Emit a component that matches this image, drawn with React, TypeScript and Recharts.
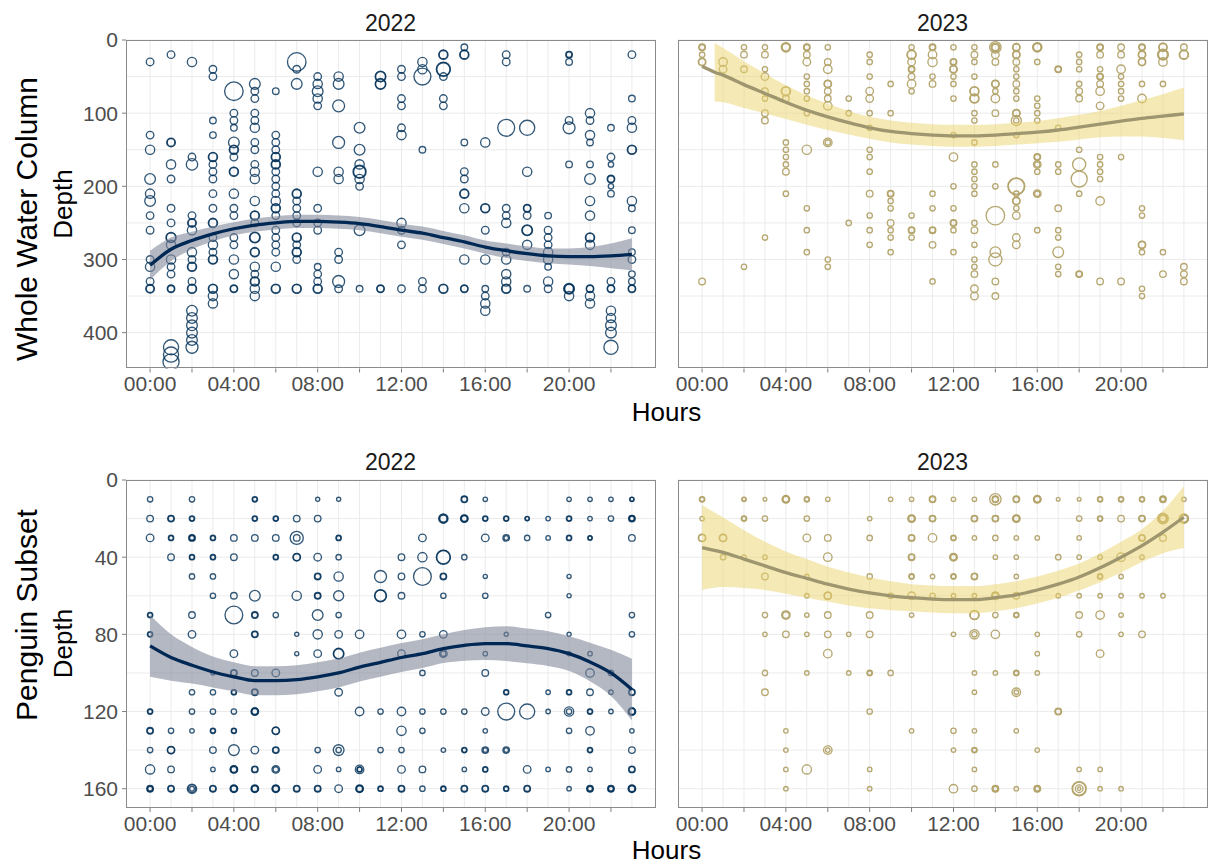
import { ComposedChart, Scatter, Line, Area, XAxis, YAxis, ZAxis, CartesianGrid } from 'recharts';

// [hour, depth, size] — size is the bubble value (ring overlaps = repeated rows)
const wholeColumn2022 = [
  [0,30,2],[0,130,2],[0,150,3],[0,190,4],[0,210,3],[0,220,4],[0,240,2],[0,260,2],[0,300,2],[0,310,3],[0,330,2],[0,340,2],[0,340,2.6],
  [1,20,2],[1,140,2],[1,140,2.6],[1,170,3],[1,190,2],[1,230,2],[1,250,2],[1,270,3],[1,270,3.6],[1,280,3],[1,300,3],[1,310,2],[1,320,2],[1,340,2],[1,340,1.5],[1,420,8],[1,430,8],[1,440,9],
  [2,30,3],[2,160,2],[2,170,4.5],[2,240,2],[2,250,2],[2,250,2.6],[2,260,3],[2,290,3],[2,300,2],[2,310,3],[2,310,2.4],[2,330,2],[2,340,3],[2,340,2.4],[2,370,4],[2,380,4],[2,390,4],[2,400,4],[2,410,4],[2,420,5],
  [3,40,2],[3,50,2],[3,110,1.5],[3,130,1.5],[3,160,3],[3,160,2.4],[3,170,2],[3,180,2],[3,190,2],[3,210,2],[3,230,2],[3,250,3],[3,250,2.4],[3,270,2],[3,280,3],[3,290,2],[3,300,3],[3,300,2.4],[3,340,3],[3,340,2.4],[3,350,3],[3,360,3],
  [4,70,12],[4,100,2],[4,110,2],[4,120,1.5],[4,140,4],[4,150,3],[4,150,2.4],[4,160,2],[4,180,3],[4,180,2.4],[4,210,3],[4,230,2],[4,240,2],[4,270,2],[4,280,2],[4,300,3],[4,320,3],[4,340,2],[4,340,1.6],
  [5,60,4],[5,70,2],[5,80,2],[5,100,2],[5,110,2],[5,120,3],[5,140,2],[5,150,2],[5,170,2],[5,180,3],[5,190,3],[5,220,3],[5,240,3],[5,240,2.4],[5,250,2],[5,270,4],[5,270,3.3],[5,290,3],[5,290,2.4],[5,310,3],[5,320,2],[5,330,3],[5,330,2.4],[5,340,3],[5,350,3],
  [6,70,1.5],[6,130,2],[6,140,2],[6,150,2],[6,160,3],[6,160,2.4],[6,170,3],[6,170,2.4],[6,180,2],[6,190,2],[6,200,2],[6,210,2],[6,220,3],[6,230,3],[6,230,2.4],[6,240,2],[6,260,2],[6,270,2],[6,280,2],[6,290,2],[6,310,3],[6,340,3],[6,340,2.4],
  [7,30,12],[7,40,2],[7,60,4],[7,210,3],[7,210,2.4],[7,220,2],[7,230,2],[7,240,2],[7,250,2],[7,270,3],[7,270,2.4],[7,280,2],[7,290,3],[7,290,2.4],[7,300,2],[7,340,3],[7,340,2.4],
  [8,50,2],[8,60,3],[8,70,4],[8,80,3],[8,90,2],[8,180,3],[8,230,2],[8,250,2],[8,260,2],[8,310,1.5],[8,320,2],[8,330,2],[8,340,3],[8,340,2.4],
  [9,50,3],[9,60,4],[9,90,5],[9,140,5],[9,180,3],[9,190,3],[9,290,2],[9,300,2],[9,330,5],[9,340,2],
  [10,120,4],[10,150,4],[10,170,3],[10,180,6],[10,180,5],[10,190,3],[10,200,2],[10,260,4],[10,340,1.5],
  [11,50,4],[11,50,3.4],[11,60,4],[11,60,3.4],[11,340,2],[11,340,1.6],
  [12,40,2],[12,50,2],[12,80,2],[12,90,2],[12,120,2],[12,130,3],[12,250,3],[12,260,2],[12,280,2],[12,340,2],
  [13,30,3],[13,40,3],[13,50,10],[13,150,1.5],[13,330,2],[13,340,2],
  [14,20,3],[14,20,2.4],[14,40,7],[14,40,6],[14,50,2],[14,80,2],[14,90,2],[14,340,3],[14,340,2.4],
  [15,10,1.5],[15,20,3],[15,20,2.4],[15,140,1.5],[15,180,2],[15,190,2],[15,210,3],[15,210,2.4],[15,230,3],[15,300,3],[15,340,2],[15,340,1.6],
  [16,140,3],[16,230,3],[16,230,2.4],[16,260,2],[16,300,3],[16,340,1.5],[16,350,2],[16,360,3],[16,370,3],
  [17,20,2],[17,30,2],[17,120,10],[17,230,2],[17,240,2],[17,250,3],[17,290,2],[17,300,3],[17,320,3],[17,330,3],[17,340,3],[17,340,2.4],
  [18,120,8],[18,180,3],[18,230,2],[18,230,1.6],[18,240,2],[18,260,4],[18,260,3.3],[18,280,3],[18,340,1.5],
  [19,240,1.5],[19,260,2],[19,270,2],[19,280,2],[19,290,3],[19,300,3],[19,310,1.5],[19,330,3],[19,340,2],
  [20,20,1.5],[20,20,1.1],[20,30,1.5],[20,110,2],[20,120,5],[20,170,1.5],[20,340,4],[20,340,3.3],[20,340,2.6],[20,350,3],
  [21,100,3],[21,110,2],[21,130,3],[21,140,1.5],[21,170,1.5],[21,190,4],[21,220,3],[21,240,3],[21,270,3],[21,270,2.4],[21,280,3],[21,340,2],[21,340,1.6],[21,350,3],[21,360,3],
  [22,120,1.5],[22,160,2],[22,170,1],[22,190,2],[22,190,1.5],[22,200,1],[22,210,1.5],[22,330,2],[22,340,2],[22,340,1.6],[22,370,3],[22,380,3],[22,390,4],[22,400,4],[22,420,7],
  [23,20,2],[23,80,1.5],[23,110,2],[23,120,3],[23,150,3],[23,150,2.4],[23,220,3],[23,230,1.5],[23,260,1.5],[23,290,1.5],[23,300,2],[23,320,1.5],[23,330,1.5],[23,340,2],[23,340,1.6],
];

const wholeColumn2023 = [
  [0,10,1.5],[0,10,1.1],[0,20,1],[0,30,2],[0,30,1.6],[0,330,1.5],
  [1,30,2.5],[1,40,2],
  [2,10,1],[2,20,1.5],[2,40,1.5],[2,310,1],
  [3,10,1],[3,20,1.5],[3,40,1],[3,50,2],[3,70,1.5],[3,80,1],[3,100,1.5],[3,110,1.5],[3,270,1],
  [4,10,3],[4,10,2.5],[4,10,2],[4,70,3],[4,70,2.4],[4,80,1.5],[4,140,1],[4,150,1],[4,160,1],[4,170,1],[4,180,1.5],[4,210,1],
  [5,10,1.5],[5,10,1.1],[5,20,1.5],[5,30,2],[5,50,1],[5,60,1],[5,70,1],[5,80,1],[5,100,1],[5,150,3],[5,230,1],[5,260,1],[5,290,1],
  [6,10,1],[6,30,1.5],[6,40,2.5],[6,60,2],[6,60,1.6],[6,70,1.5],[6,80,1.5],[6,90,2.5],[6,140,2.5],[6,140,1],[6,300,1],[6,310,1],
  [7,80,1],[7,100,1],[7,250,1],
  [8,20,1],[8,30,1],[8,50,1],[8,70,2],[8,80,2],[8,100,1],[8,120,1],[8,150,1],[8,160,1],[8,180,1],[8,210,1.5],[8,240,1],[8,260,1],[8,280,1],
  [9,60,1],[9,100,1],[9,210,1.5],[9,210,1.1],[9,220,1],[9,230,1],[9,250,1.5],[9,260,1],[9,270,1],[9,290,1],
  [10,10,1],[10,20,3],[10,20,2.4],[10,30,2],[10,40,1.5],[10,40,1.1],[10,50,1.5],[10,60,2.5],[10,70,1],[10,240,1],[10,260,1.5],[10,260,1.1],[10,270,1],
  [11,10,1.5],[11,10,1.1],[11,20,2.5],[11,30,3],[11,50,1],[11,60,1.5],[11,210,1],[11,230,1],[11,260,1.5],[11,260,1.1],[11,280,1.5],[11,330,1],
  [12,10,1],[12,30,1.5],[12,30,1.1],[12,40,2],[12,40,1.6],[12,50,1],[12,60,1],[12,80,1],[12,130,1],[12,160,2.5],[12,200,1],[12,230,1],[12,250,1.5],[12,250,1.1],[12,260,1],[12,290,1],
  [13,10,1],[13,20,1.5],[13,30,1],[13,50,1],[13,70,3],[13,70,2.4],[13,80,3],[13,80,2.4],[13,100,1],[13,110,1],[13,140,1],[13,170,1],[13,180,1],[13,190,1],[13,200,1],[13,210,1],[13,250,1],[13,260,1.5],[13,280,1],[13,300,1],[13,310,1],[13,320,1.5],[13,340,2],[13,350,2],
  [14,10,4.5],[14,10,2.5],[14,10,1.5],[14,20,2],[14,30,1.5],[14,60,2],[14,60,1.6],[14,70,1],[14,80,2.5],[14,100,1.5],[14,170,1],[14,200,1],[14,240,12],[14,290,4],[14,300,6],[14,330,1.5],[14,350,1.5],
  [15,10,2],[15,10,1.6],[15,20,2],[15,20,1.6],[15,30,1.5],[15,40,1],[15,50,1],[15,60,1.5],[15,70,1],[15,80,1],[15,100,2],[15,100,1.6],[15,110,3.5],[15,110,1],[15,130,1],[15,200,10],[15,200,9],[15,210,1],[15,220,2],[15,220,1.6],[15,230,1],[15,240,2],[15,270,2],[15,280,2],
  [16,10,3],[16,10,2.5],[16,10,2],[16,30,1],[16,80,1],[16,90,1],[16,100,1],[16,110,1],[16,160,1.5],[16,160,1.1],[16,170,2],[16,170,1],[16,180,1],[16,210,2],[16,210,1],[16,260,1],
  [17,40,1.5],[17,40,1.1],[17,120,1],[17,170,1],[17,180,1],[17,230,1.5],[17,260,1],[17,270,1],[17,290,4],[17,310,1],[17,320,1],
  [18,20,1],[18,30,1],[18,40,1],[18,60,1],[18,70,1.5],[18,80,1.5],[18,150,1],[18,170,6],[18,190,9],[18,210,1],[18,320,1.5],[18,320,1.1],
  [19,10,1.5],[19,10,1.1],[19,20,1.5],[19,40,1],[19,50,1.5],[19,50,1.1],[19,60,1.5],[19,70,2.5],[19,90,2],[19,160,1],[19,170,1],[19,180,1],[19,190,1],[19,220,2.5],[19,330,1.5],
  [20,10,1.5],[20,20,1.5],[20,40,2.5],[20,50,1],[20,60,1],[20,70,1],[20,80,1],[20,160,1],[20,330,1.5],
  [21,10,1.5],[21,10,1.1],[21,20,2],[21,20,1.6],[21,30,2],[21,30,1.6],[21,60,1],[21,80,2.5],[21,230,1],[21,240,1],[21,280,2],[21,280,1.6],[21,290,1],[21,340,1],[21,350,1],
  [22,10,2.5],[22,10,2],[22,20,4],[22,20,3.4],[22,20,2.8],[22,30,2.5],[22,60,1],[22,290,1],[22,320,1.5],
  [23,10,1.5],[23,20,3],[23,20,2.4],[23,310,1.5],[23,320,1.5],[23,330,1.5],
];

const penguin2022 = [
  [0,10,1],[0,20,1.5],[0,30,2],[0,70,1],[0,70,0.7],[0,80,1],[0,80,0.7],[0,120,1],[0,120,0.7],[0,130,1.5],[0,130,1.1],[0,140,1],[0,150,3],[0,160,1.5],[0,160,1.1],[0,160,0.8],
  [1,20,1.5],[1,20,1.1],[1,30,1],[1,30,0.7],[1,40,1.5],[1,130,1],[1,140,2],[1,140,1.6],[1,150,1.5],[1,160,1.5],[1,160,1.1],
  [2,10,1],[2,20,1],[2,20,0.7],[2,30,1.5],[2,30,1.1],[2,30,0.8],[2,40,1],[2,40,0.7],[2,50,1],[2,70,1.5],[2,80,2],[2,110,1],[2,120,1],[2,130,0.7],[2,160,3],[2,160,2],[2,160,0.8],
  [3,30,1],[3,30,0.7],[3,40,1],[3,40,0.7],[3,50,1],[3,60,1],[3,100,0.6],[3,110,1],[3,120,1],[3,130,1],[3,130,0.7],[3,140,1.5],[3,150,0.7],[3,160,1.5],[3,160,1.1],
  [4,30,1.5],[4,40,1.5],[4,60,1.5],[4,70,11],[4,90,2],[4,100,1.5],[4,100,1.1],[4,110,1],[4,110,0.7],[4,120,1],[4,130,1],[4,130,0.7],[4,140,4],[4,150,2],[4,150,1.6],[4,150,1.2],[4,160,2],[4,160,1.6],[4,160,1.2],
  [5,10,1],[5,10,0.7],[5,20,1],[5,20,0.7],[5,30,1.5],[5,60,4],[5,70,1.5],[5,70,1.1],[5,80,1.5],[5,80,1.1],[5,100,1.5],[5,110,1.5],[5,110,1.1],[5,120,2],[5,120,1.6],[5,120,1.2],[5,140,2],[5,150,1.5],[5,150,1.1],[5,160,2],[5,160,1.6],[5,160,1.2],
  [6,20,1],[6,20,0.7],[6,30,1.5],[6,40,1],[6,40,0.7],[6,70,1],[6,100,2],[6,130,2],[6,130,1.6],[6,140,1.5],[6,140,1.1],[6,150,2],[6,150,1],[6,160,2],[6,160,1.6],[6,160,1.2],
  [7,20,1.5],[7,30,6],[7,30,1.5],[7,40,2],[7,40,1.6],[7,60,3],[7,80,0.6],[7,90,0.6],[7,160,1.5],[7,160,1.1],
  [8,10,0.6],[8,20,1.5],[8,40,2],[8,50,1.5],[8,50,1.1],[8,60,1.5],[8,60,1.1],[8,70,4],[8,80,3],[8,90,2],[8,140,1],[8,150,2],[8,160,1.5],[8,160,1.1],
  [9,10,0.6],[9,30,1],[9,30,0.7],[9,40,1],[9,50,3],[9,60,3.5],[9,70,1],[9,80,2],[9,90,4],[9,90,3.4],[9,110,2],[9,140,4],[9,140,1],[9,150,0.7],[9,160,2],
  [10,80,2.5],[10,120,2.5],[10,150,2.5],[10,150,1],[10,150,0.7],[10,160,2],[10,160,1.6],[10,160,1.2],
  [11,50,5],[11,60,5],[11,60,4.4],[11,120,1],[11,140,1],[11,160,1],[11,160,0.7],
  [12,40,1.5],[12,50,1.5],[12,60,1.5],[12,80,2.5],[12,90,2],[12,120,2.5],[12,130,3],[12,140,1],[12,150,2],[12,160,1.5],[12,160,1.1],
  [13,30,2],[13,40,3],[13,50,11],[13,80,1],[13,100,1],[13,120,1],[13,130,1],[13,150,1.5],[13,160,1],
  [14,20,3],[14,20,2.4],[14,20,1.8],[14,40,7],[14,40,6.2],[14,50,1.5],[14,50,1.1],[14,60,1],[14,80,2],[14,90,2],[14,90,1],[14,120,1],[14,140,0.7],[14,160,1],[14,160,0.7],
  [15,10,1.5],[15,10,1.1],[15,20,2],[15,20,1.6],[15,20,1.2],[15,40,1],[15,120,1],[15,140,1],[15,140,0.7],[15,150,0.7],[15,160,1.5],[15,160,1.1],
  [16,10,0.7],[16,20,1],[16,20,0.7],[16,30,2],[16,50,0.6],[16,60,1],[16,90,0.7],[16,100,1.5],[16,120,2],[16,130,0.7],[16,140,1.5],[16,140,0.7],[16,150,1],[16,150,0.7],[16,160,1.5],[16,160,1.1],
  [17,20,1],[17,20,0.7],[17,30,1.5],[17,30,0.7],[17,80,0.6],[17,110,1],[17,110,0.7],[17,120,10],[17,140,1.5],[17,140,0.7],[17,160,1],[17,160,0.7],
  [18,20,0.7],[18,20,0.5],[18,30,1],[18,120,8],[18,150,2],[18,160,1.5],[18,160,1.1],
  [19,20,0.7],[19,30,0.7],[19,70,1],[19,110,0.7],[19,120,0.7],[19,150,0.7],
  [20,10,0.7],[20,20,1],[20,20,0.7],[20,30,1],[20,30,0.7],[20,50,0.6],[20,60,0.6],[20,80,0.6],[20,90,0.6],[20,110,1],[20,110,0.7],[20,120,3],[20,120,1],[20,130,1],[20,150,1],[20,160,0.7],
  [21,10,0.7],[21,20,0.7],[21,30,0.7],[21,30,0.5],[21,90,0.7],[21,100,2.5],[21,110,1.5],[21,120,1],[21,120,0.7],[21,130,2.5],[21,140,1],[21,140,0.7],[21,150,0.7],[21,160,1.5],[21,160,1.1],[21,160,0.8],
  [22,10,0.7],[22,20,1],[22,100,1],[22,110,0.7],[22,120,0.7],[22,160,1.5],[22,160,1.1],[22,160,0.8],
  [23,10,0.7],[23,10,0.5],[23,20,1.5],[23,20,1.1],[23,20,0.8],[23,30,1.5],[23,70,1],[23,80,1],[23,110,1.5],[23,110,1.1],[23,120,2],[23,120,1.6],[23,120,1.2],[23,130,0.7],[23,140,1.5],[23,150,1.5],[23,150,1.1],[23,160,2],[23,160,1.6],[23,160,1.2],
];

const penguin2023 = [
  [0,10,1],[0,10,0.7],[0,20,0.7],[0,30,2],[0,30,1.6],
  [1,30,2],[1,30,1.6],[1,40,1],
  [2,10,0.7],[2,10,0.5],[2,20,1],[2,20,0.7],[2,40,0.7],
  [3,10,0.5],[3,20,1],[3,40,0.7],[3,50,1.5],[3,70,1],[3,80,0.7],[3,100,1],[3,110,1.5],
  [4,10,2],[4,10,1.6],[4,10,1.2],[4,70,2.5],[4,70,1.5],[4,80,1.5],[4,130,0.7],[4,140,0.7],[4,150,0.7],[4,160,0.7],
  [5,10,1],[5,10,0.7],[5,20,1],[5,30,2],[5,50,0.7],[5,60,0.7],[5,70,0.7],[5,80,0.7],[5,100,0.7],[5,150,3],
  [6,10,0.7],[6,30,1.5],[6,40,2.5],[6,60,2],[6,60,1.6],[6,70,1.5],[6,80,1.5],[6,90,2.5],[6,140,2.5],[6,140,0.7],
  [7,80,0.7],[7,100,0.7],
  [8,20,0.7],[8,30,1],[8,50,1],[8,70,1.5],[8,80,1.5],[8,100,1],[8,100,0.7],[8,120,1],[8,150,0.7],[8,160,0.7],
  [9,10,0.7],[9,60,1],[9,100,1],
  [10,10,0.7],[10,20,2],[10,20,1.6],[10,20,1.2],[10,30,1.5],[10,30,1.1],[10,40,1.5],[10,40,1.1],[10,50,1],[10,50,0.7],[10,60,2],[10,70,0.7],[10,130,0.7],
  [11,10,1.5],[11,10,1.1],[11,20,1.5],[11,20,1.1],[11,30,2.5],[11,50,0.7],[11,60,1],
  [12,10,0.7],[12,30,1],[12,30,0.7],[12,40,2],[12,40,1.6],[12,40,1.2],[12,50,1],[12,50,0.7],[12,60,0.7],[12,80,0.7],[12,130,1],[12,140,0.7],[12,160,2.5],
  [13,10,0.7],[13,20,1.5],[13,20,1.1],[13,30,0.7],[13,50,1.5],[13,50,1.1],[13,60,0.7],[13,70,3],[13,70,2.5],[13,80,3],[13,80,1],[13,100,0.7],[13,110,0.7],[13,130,0.7],[13,140,1],[13,140,0.7],[13,150,0.7],[13,160,1],
  [14,10,4.5],[14,10,1.5],[14,10,1.1],[14,20,1.5],[14,20,1.1],[14,30,1],[14,40,0.7],[14,60,2],[14,60,1.6],[14,60,1.2],[14,70,1],[14,80,2.5],[14,100,0.7],[14,160,1.5],[14,160,1.1],[14,160,0.8],
  [15,10,1.5],[15,10,1.1],[15,20,2],[15,20,1.6],[15,20,1.2],[15,30,0.7],[15,40,0.7],[15,50,0.7],[15,60,1.5],[15,70,1],[15,70,0.7],[15,100,1],[15,100,0.7],[15,110,2.5],[15,110,0.7],[15,130,0.7],[15,160,0.7],
  [16,10,2],[16,10,1.6],[16,10,1.2],[16,30,0.7],[16,80,0.7],[16,90,0.7],[16,100,0.7],[16,140,0.7],[16,160,1.5],[16,160,1.1],[16,160,0.8],
  [17,10,0.5],[17,40,1],[17,60,0.7],[17,120,1.5],[17,120,1.1],
  [18,10,0.5],[18,20,1],[18,30,0.7],[18,40,0.7],[18,60,0.7],[18,70,1.5],[18,80,1],[18,150,0.7],[18,160,7],[18,160,6],[18,160,2],[18,160,0.4],
  [19,10,1],[19,10,0.7],[19,20,1],[19,20,0.7],[19,40,0.7],[19,50,1],[19,50,0.7],[19,60,0.7],[19,70,2.5],[19,90,2],[19,150,0.7],[19,160,0.7],
  [20,10,1],[20,10,0.7],[20,20,1.5],[20,40,2.5],[20,50,0.7],[20,60,0.7],[20,70,0.7],[20,80,0.7],[20,160,0.7],
  [21,10,1],[21,10,0.7],[21,20,1.5],[21,20,1.1],[21,30,1.5],[21,30,1.1],[21,40,0.7],[21,60,0.7],[21,80,1.5],
  [22,10,1.5],[22,10,1.1],[22,10,0.8],[22,20,4],[22,20,3],[22,20,2],[22,20,1.5],[22,30,1.5],[22,60,0.7],
  [23,10,0.7],[23,20,3],[23,20,2.4],[23,20,1.8],
];

// smoothed fit (loess) and its confidence half-width, per hour
const fitHours = [0,1,2,3,4,5,6,7,8,9,10,11,12,13,14,15,16,17,18,19,20,21,22,23];
const wholeFit2022 = [308,286,274,265,258,253,250,248,248,249,251,255,260,264,270,276,283,288,292,295,296,296,295,293];
const wholeCi2022 = [20,16,12,10,9,9,9,9,9,9,9,9,9,9,9,9,9,10,10,10,11,13,17,22];
const fitHours2023 = [0,0.6,1,2,3,4,5,6,7,8,9,10,11,12,13,14,15,16,17,18,19,20,21,22,23];
const wholeFit2023 = [36,44,48,61,73,85,96,105,113,120,125,128,130,131,131,130,128,126,123,119,115,111,107,104,101];
const wholeCi2023 = [null,40,37,32,27,23,20,18,16,15,15,15,15,15,15,15,15,15,16,17,18,21,25,30,36];
const penguinFit2022 = [86,92,96,99.5,102,104,104,103.5,102,100,97,94.5,92,90,87.4,85.7,84.8,84.8,86,87.4,90,94.3,100,108.6];
const penguinCi2022 = [16,12,9.5,8,7.5,7.5,7.5,7.5,7.5,7.5,7.5,7.5,7.5,7.5,7.5,8,8.5,9,9,9,9,10,12,16];
const penguinFit2023 = [35,37.5,41,44.5,48,51,54,56.5,58.5,60,61,61.7,62,62,61,59.5,57,54,50.3,45.5,40,34,27,19.3];
const penguinCi2023 = [22,18,15,12.5,11,10,9,8.5,8,7.5,7,7,7,7,7,7,7,7,7,7.5,8,8.5,11,16];

const hourTicks = [0,2,4,6,8,10,12,14,16,18,20,22];
const hourGrid = [0,1,2,3,4,5,6,7,8,9,10,11,12,13,14,15,16,17,18,19,20,21,22,23];
const wholeTicks = [0,100,200,300,400];
const wholeGrid = [0,50,100,150,200,250,300,350,400];
const penguinTicks = [0,40,80,120,160];
const penguinGrid = [0,20,40,60,80,100,120,140,160];

const FONT = '"Liberation Sans", Arial, Helvetica, sans-serif';
const NAVY = '#003057';
const GOLD = '#B3A369';

const PW = 530;
const AXW = 50;
const MT = 12;
const XH = 34;

const fmtHour = (v: number) => (v % 4 === 0 ? `${String(v).padStart(2, '0')}:00` : '');

function Panel(props: any) {
  const { pts, hours, fit, ci, left, top, h, domain, ticks, grid, showY, pointColor, pointOpacity, lineColor, bandColor, bandOpacity } = props;
  const rows = hours.map((hr: number, i: number) => ({
    hour: hr,
    fit: fit[i],
    band: ci[i] == null ? null : [Math.max(0, fit[i] - ci[i]), fit[i] + ci[i]],
  }));
  const points = pts.map((p: number[]) => ({ hour: p[0], depth: p[1], n: p[2] }));
  const yw = showY ? AXW : 0;
  const ml = showY ? 0 : 30;
  const ring = (s: any) => {
    const r = s.width ? s.width / 2 : Math.sqrt((s.size || 20) / Math.PI);
    return <circle cx={s.cx} cy={s.cy} r={r} fill="none" stroke={pointColor} strokeOpacity={pointOpacity} strokeWidth={1.35} />;
  };
  return (
    <>
      <div style={{ position: 'absolute', left: left - yw - ml, top: top - MT }}>
        <ComposedChart width={ml + yw + PW + 12} height={MT + h + XH} data={rows} margin={{ top: MT, right: 12, bottom: 0, left: ml }}>
          <CartesianGrid stroke="#ebebeb" strokeWidth={1} verticalValues={hourGrid} horizontalValues={grid} />
          <XAxis
            dataKey="hour"
            type="number"
            domain={[-1.15, 24.15]}
            allowDataOverflow
            ticks={hourTicks}
            interval={0}
            tickFormatter={fmtHour}
            height={XH}
            axisLine={false}
            tickSize={4}
            tickMargin={4}
            tickLine={{ stroke: '#7f7f7f' }}
            tick={{ fill: '#4d4d4d', fontSize: 21, fontFamily: FONT }}
          />
          <YAxis
            dataKey="depth"
            type="number"
            reversed
            domain={domain}
            allowDataOverflow
            ticks={ticks}
            interval={0}
            width={AXW}
            hide={!showY}
            axisLine={false}
            tickSize={4}
            tickMargin={4}
            tickLine={{ stroke: '#7f7f7f' }}
            tick={{ fill: '#4d4d4d', fontSize: 21, fontFamily: FONT }}
          />
          <ZAxis dataKey="n" type="number" domain={[0, 20]} range={[0, 450]} />
          <Scatter data={points} shape={ring} isAnimationActive={false} zIndex={100} />
          <Area
            dataKey="band"
            type="monotone"
            stroke="none"
            fill={bandColor}
            fillOpacity={bandOpacity}
            dot={false}
            activeDot={false}
            isAnimationActive={false}
            zIndex={200}
          />
          <Line dataKey="fit" type="monotone" stroke={lineColor} strokeWidth={3.3} dot={false} activeDot={false} isAnimationActive={false} zIndex={300} />
        </ComposedChart>
      </div>
      <div
        style={{
          position: 'absolute',
          left,
          top,
          width: PW,
          height: h,
          border: '1px solid #8a8a8a',
          boxSizing: 'border-box',
          pointerEvents: 'none',
        }}
      />
    </>
  );
}

export default function App() {
  const topRow = { top: 39.5, h: 328.5, domain: [0, 449], ticks: wholeTicks, grid: wholeGrid };
  const botRow = { top: 479.5, h: 328, domain: [0, 170], ticks: penguinTicks, grid: penguinGrid };
  const navy = { pointColor: NAVY, pointOpacity: 0.8, lineColor: '#002855', bandColor: '#7d8597', bandOpacity: 0.58 };
  const gold = { pointColor: GOLD, pointOpacity: 0.95, lineColor: '#9e966f', bandColor: '#EBD36B', bandOpacity: 0.5 };
  return (
    <div style={{ position: 'absolute', left: 0, top: 0, width: 1208, height: 868, overflow: 'hidden', background: '#fff' }}>
      <Panel {...topRow} {...navy} left={125.5} showY pts={wholeColumn2022} hours={fitHours} fit={wholeFit2022} ci={wholeCi2022} />
      <Panel {...topRow} {...gold} left={677.5} showY={false} pts={wholeColumn2023} hours={fitHours2023} fit={wholeFit2023} ci={wholeCi2023} />
      <Panel {...botRow} {...navy} left={125.5} showY pts={penguin2022} hours={fitHours} fit={penguinFit2022} ci={penguinCi2022} />
      <Panel {...botRow} {...gold} left={677.5} showY={false} pts={penguin2023} hours={fitHours} fit={penguinFit2023} ci={penguinCi2023} />
      <svg width={1208} height={868} style={{ position: 'absolute', left: 0, top: 0, pointerEvents: 'none' }}>
        <g fontFamily={FONT}>
          <text x={390.5} y={30.5} textAnchor="middle" fontSize={23} fill="#1a1a1a">2022</text>
          <text x={942.5} y={30.5} textAnchor="middle" fontSize={23} fill="#1a1a1a">2023</text>
          <text x={390.5} y={470} textAnchor="middle" fontSize={23} fill="#1a1a1a">2022</text>
          <text x={942.5} y={470} textAnchor="middle" fontSize={23} fill="#1a1a1a">2023</text>
          <text x={666.5} y={420.5} textAnchor="middle" fontSize={26} fill="#000">Hours</text>
          <text x={666.5} y={859} textAnchor="middle" fontSize={26} fill="#000">Hours</text>
          <text transform="translate(37,219) rotate(-90)" textAnchor="middle" fontSize={30} fill="#000">Whole Water Column</text>
          <text transform="translate(72,204) rotate(-90)" textAnchor="middle" fontSize={26} fill="#000">Depth</text>
          <text transform="translate(37,615) rotate(-90)" textAnchor="middle" fontSize={30} fill="#000">Penguin Subset</text>
          <text transform="translate(72,643.5) rotate(-90)" textAnchor="middle" fontSize={26} fill="#000">Depth</text>
        </g>
      </svg>
    </div>
  );
}
